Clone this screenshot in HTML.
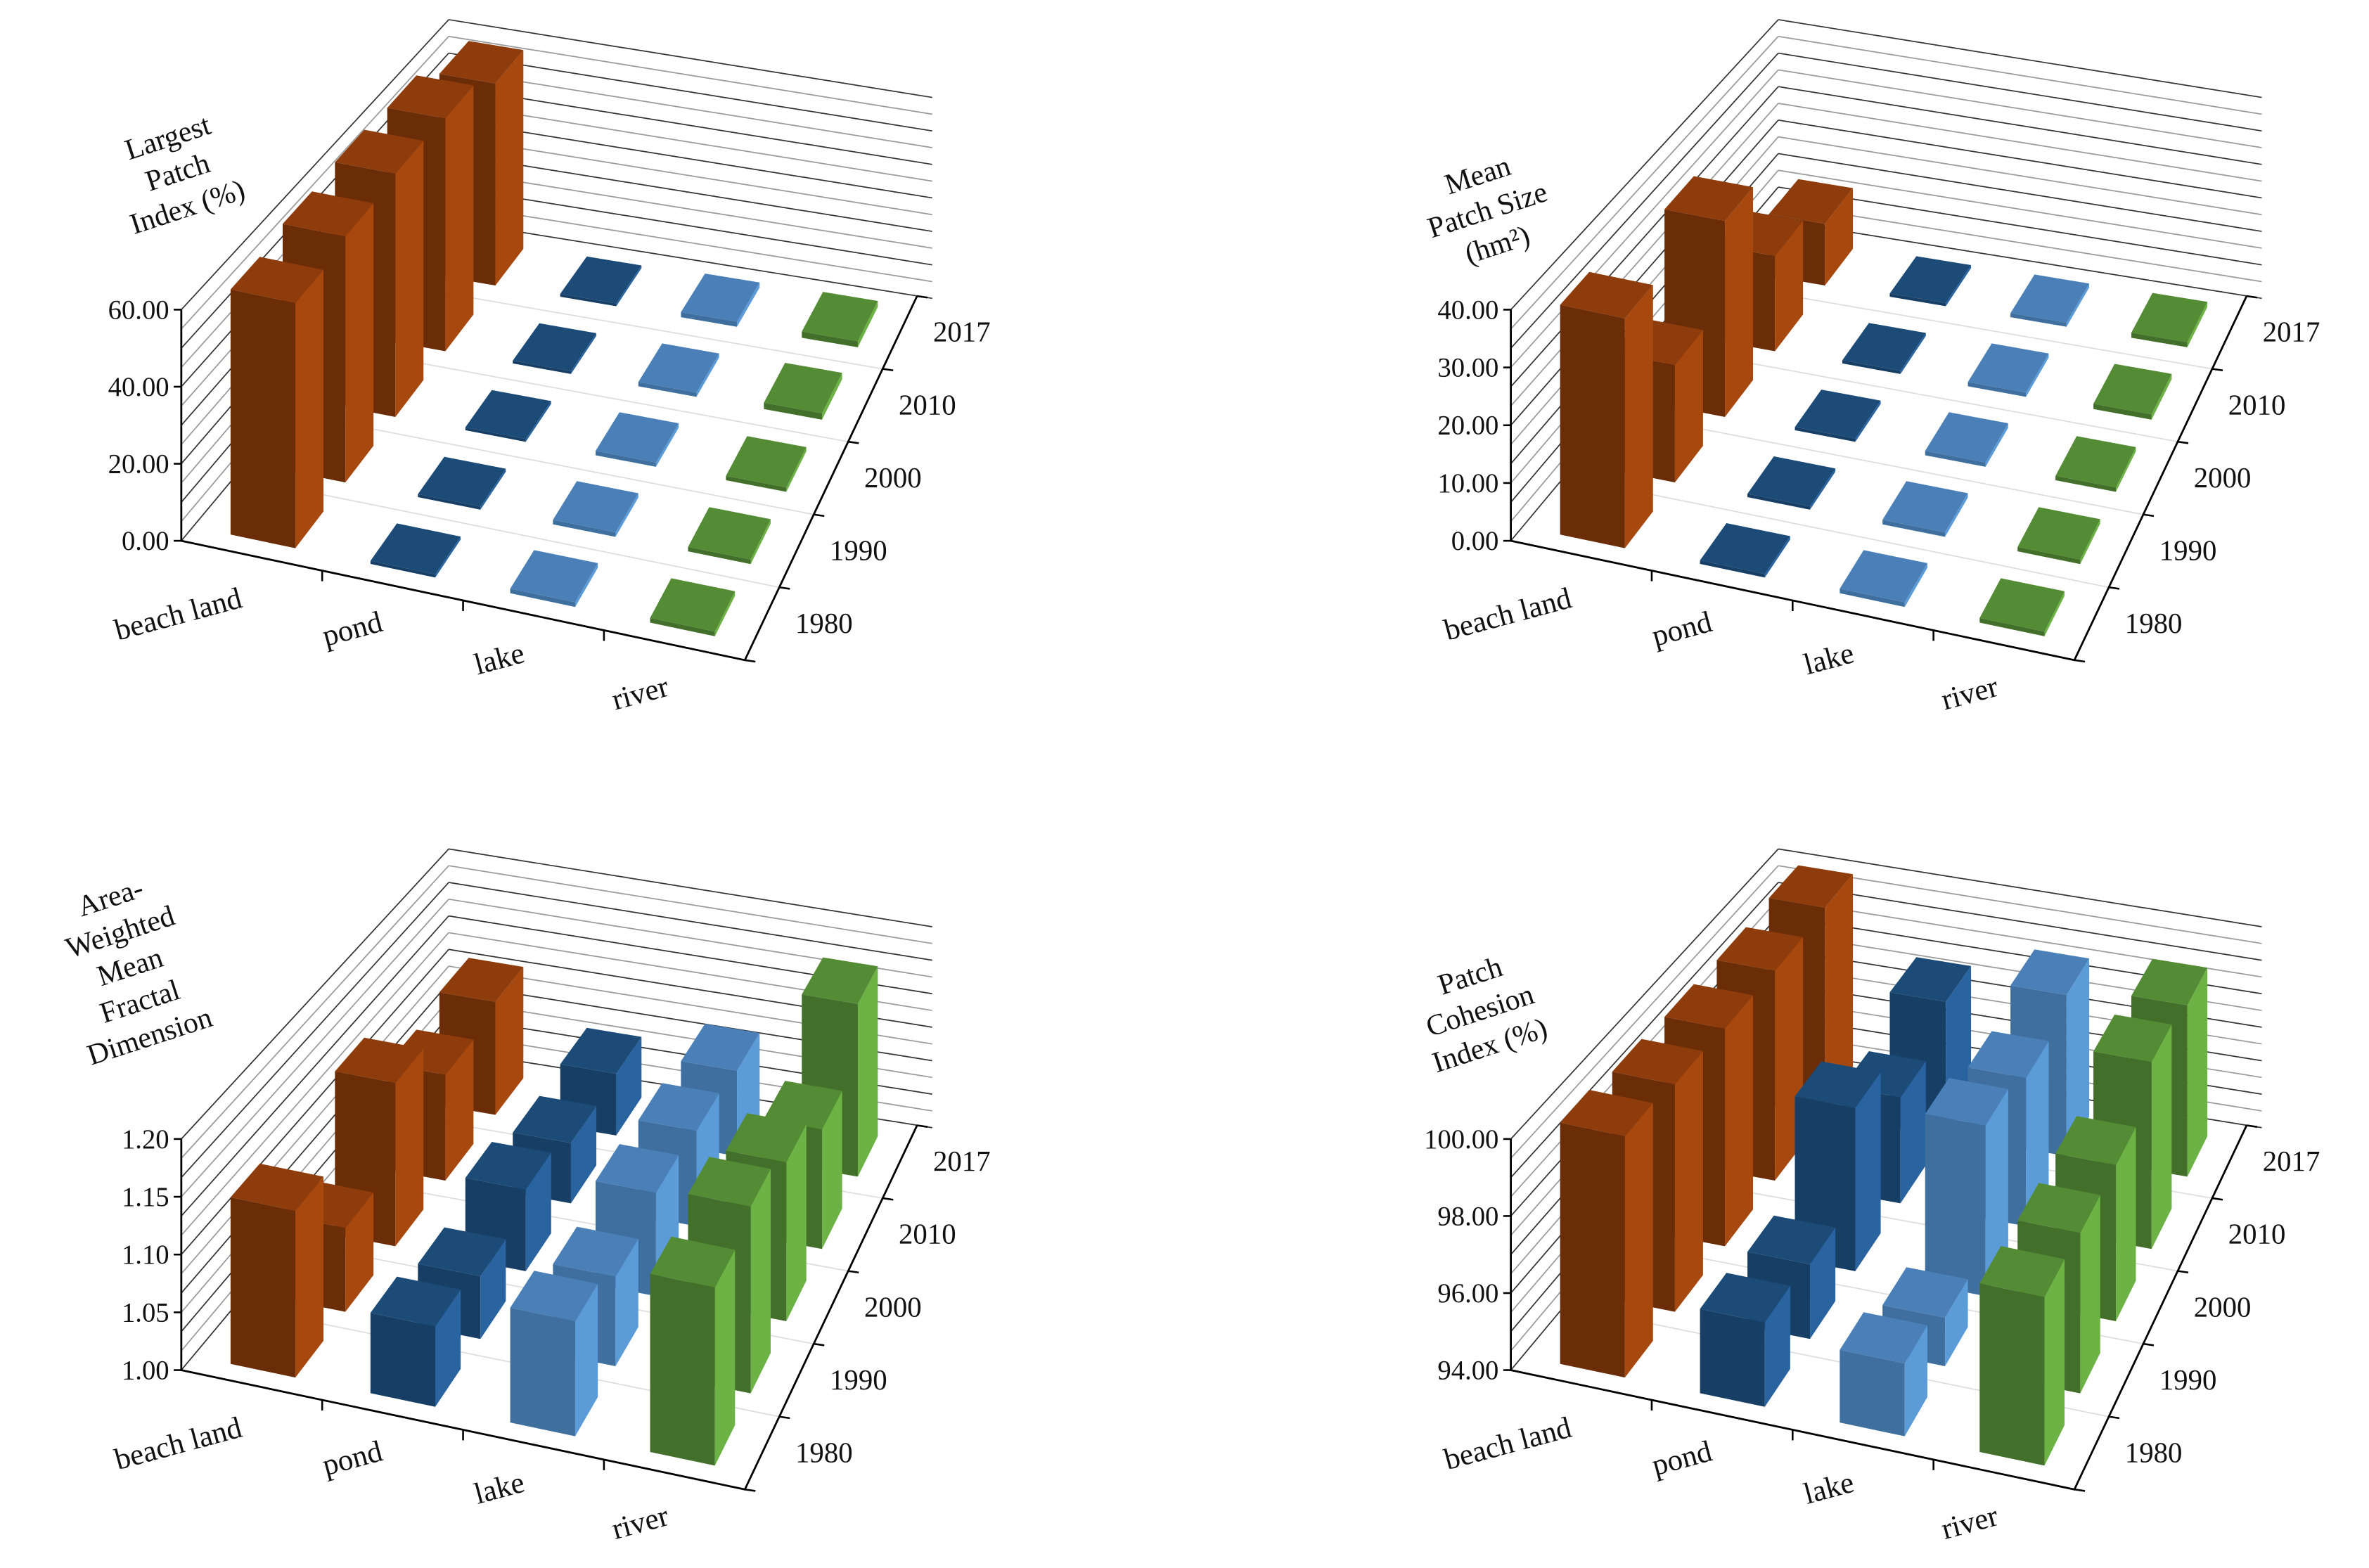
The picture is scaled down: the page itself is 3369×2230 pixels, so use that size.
<!DOCTYPE html>
<html><head><meta charset="utf-8"><style>
html,body{margin:0;padding:0;background:#fff;}
svg{display:block;}
text{font-family:"Liberation Serif",serif;fill:#111;}
</style></head><body>
<svg id="chart" width="3369" height="2230" viewBox="0 0 1568 1038" preserveAspectRatio="none" xmlns="http://www.w3.org/2000/svg"></svg>
<script>
const categories = ["beach land","pond","lake","river"];
const years = ["1980","1990","2000","2010","2017"];
// Largest Patch Index
const lpiBeach = [64,66,67,66,59];
const lpiPond = [0.8,0.8,0.8,0.8,0.8];
const lpiLake = [1.2,1.2,1.2,1.2,1.5];
const lpiRiver = [1.2,1.2,1.2,1.8,1.8];
const lpiTicks = ["0.00","20.00","40.00","60.00"];
// Mean Patch Size
const mpsBeach = [40,21,36,18,12];
const mpsPond = [0.6,0.6,0.6,0.6,0.6];
const mpsLake = [0.8,0.8,0.8,0.8,0.8];
const mpsRiver = [0.8,0.8,0.8,1.0,1.0];
const mpsTicks = ["0.00","10.00","20.00","30.00","40.00"];
// Area-Weighted Mean Fractal Dimension
const awBeach = [1.145,1.075,1.15,1.10,1.11];
const awPond = [1.07,1.056,1.075,1.057,1.06];
const awLake = [1.10,1.08,1.095,1.09,1.083];
const awRiver = [1.155,1.167,1.146,1.113,1.168];
const awTicks = ["1.00","1.05","1.10","1.15","1.20"];
// Patch Cohesion Index
const pcBeach = [100.3,100.1,100.0,99.95,100.05];
const pcPond = [96.2,96.0,98.5,97.0,97.9];
const pcLake = [95.9,95.3,98.7,98.2,98.7];
const pcRiver = [98.4,98.3,98.3,99.3,99.0];
const pcTicks = ["94.00","96.00","98.00","100.00"];

const NS="http://www.w3.org/2000/svg";
const svg=document.getElementById('chart');
const colors=[
 {front:'#6b2c08',side:'#a7490f',top:'#8e3c0c'},
 {front:'#173f66',side:'#2a64a0',top:'#1c4b78'},
 {front:'#3e6f9e',side:'#5a9bd8',top:'#4a80b7'},
 {front:'#426f29',side:'#6cb245',top:'#548b35'}
];
const catLabelDx=[-47,-25,-21,-21];
const catLabelDy=[45,35,35,38];
function mk(tag,attrs,parent){const e=document.createElementNS(NS,tag);for(const k in attrs)e.setAttribute(k,attrs[k]);(parent||svg).appendChild(e);return e;}

const panels=[
 {key:'lpi',dx:0,dy:0,min:0,max:60,step:5,ticks:lpiTicks,series:[lpiBeach,lpiPond,lpiLake,lpiRiver],title:["Largest","Patch","Index (%)"],tpos:[113,97]},
 {key:'mps',dx:880,dy:0,min:0,max:40,step:10/3,ticks:mpsTicks,series:[mpsBeach,mpsPond,mpsLake,mpsRiver],title:["Mean","Patch Size","(hm²)"],tpos:[980,122]},
 {key:'awmfd',dx:0,dy:549,min:1.0,max:1.2,step:0.2/12,ticks:awTicks,series:[awBeach,awPond,awLake,awRiver],title:["Area-","Weighted","Mean","Fractal","Dimension"],tpos:[75,600]},
 {key:'cohesion',dx:880,dy:549,min:94,max:100,step:0.5,ticks:pcTicks,series:[pcBeach,pcPond,pcLake,pcRiver],title:["Patch","Cohesion","Index (%)"],tpos:[975,652]}
];

panels.forEach(p=>{
 const g=mk('g',{});
 
 
 const FL=[120+p.dx,358+p.dy],FR=[493+p.dx,437+p.dy],BL=[297+p.dx,146+p.dy],BR=[607+p.dx,196+p.dy];
 const HF=153,HB=133;
 function P(u,v,val){
  const x=(1-u)*(1-v)*FL[0]+u*(1-v)*FR[0]+(1-u)*v*BL[0]+u*v*BR[0];
  const y=(1-u)*(1-v)*FL[1]+u*(1-v)*FR[1]+(1-u)*v*BL[1]+u*v*BR[1];
  const t=(val-p.min)/(p.max-p.min);
  return [x,y-t*(HF+(HB-HF)*v)];
 }
 const pts=a=>a.map(q=>q[0].toFixed(1)+','+q[1].toFixed(1)).join(' ');
 const n=Math.round((p.max-p.min)/p.step);
 for(let k=0;k<=n;k++){
  const val=p.min+k*p.step;
  const a=P(0,0,val),b=P(0,1,val),c=P(1,1,val);
  const col=(k%2===0)?'#333':'#999';
  const l1=mk('line',{x1:a[0],y1:a[1],x2:b[0],y2:b[1],stroke:col,'stroke-width':0.8},g);
  
  
  const l2=mk('line',{x1:b[0],y1:b[1],x2:c[0]+10,y2:c[1]+1.5,stroke:col,'stroke-width':0.8},g);
  
  
 }
 for(let j=1;j<5;j++){
  const a=P(0,j/5,p.min),b=P(1,j/5,p.min);
  const l=mk('line',{x1:a[0],y1:a[1],x2:b[0],y2:b[1],stroke:'#ddd','stroke-width':0.8},g);
  
  
 }
 const zt=P(0,0,p.max);
 const axes=mk('path',{d:`M${zt[0]},${zt[1]} L${FL[0]},${FL[1]} L${FR[0]},${FR[1]} L${BR[0]},${BR[1]}`,fill:'none',stroke:'#000','stroke-width':1.3},g);
 
 
 const tstep=(p.max-p.min)/(p.ticks.length-1);
 p.ticks.forEach((lab,k)=>{
  const q=P(0,0,p.min+k*tstep);
  const tl=mk('line',{x1:q[0]-5,y1:q[1],x2:q[0],y2:q[1],stroke:'#000','stroke-width':1.2},g);
  
  
  const t=mk('text',{x:q[0]-8,y:q[1]+6,'text-anchor':'end','font-size':18},g);
  t.textContent=lab;
  
  
 });
 for(let i=1;i<4;i++){
  const q=P(i/4,0,p.min);
  const tl=mk('line',{x1:q[0],y1:q[1],x2:q[0],y2:q[1]+7,stroke:'#000','stroke-width':1.2},g);
  
  
 }
 categories.forEach((c,i)=>{
  const q=P((i+0.5)/4,0,p.min);
  const cx=q[0]+catLabelDx[i], cy=q[1]+catLabelDy[i];
  const t=mk('text',{x:cx,y:cy,'text-anchor':'middle','font-size':20,transform:`rotate(-15 ${cx} ${cy})`},g);
  t.textContent=c;
  
  
 });
 for(let j=0;j<=5;j++){
  const q=P(1,j/5,p.min);
  const tl=mk('line',{x1:q[0],y1:q[1],x2:q[0]+7,y2:q[1]+1,stroke:'#000','stroke-width':1.2},g);
  
  
 }
 years.forEach((yv,j)=>{
  const q=P(1,(j+0.5)/5,p.min);
  const t=mk('text',{x:q[0]+41,y:q[1]+6,'text-anchor':'middle','font-size':19},g);
  t.textContent=yv;
  
  
 });
 p.title.forEach((line,k)=>{
  const x=p.tpos[0]+k*6.5,y=p.tpos[1]+k*23;
  const t=mk('text',{x:x,y:y,'text-anchor':'middle','font-size':19.5,transform:`rotate(-18 ${x} ${y})`},g);
  t.textContent=line;
  
  
 });
 const hu=0.058,hv=0.056;
 for(let j=4;j>=0;j--){
  for(let i=0;i<4;i++){
   const val=p.series[i][j];
   const uc=(i+0.5)/4,vc=(j+0.5)/5;
   const u0=uc-hu,u1=uc+hu,v0=vc-hv,v1=vc+hv;
   const bg=mk('g',{},g);
   
   
   const c=colors[i];
   mk('polygon',{points:pts([P(u0,v0,p.min),P(u1,v0,p.min),P(u1,v0,val),P(u0,v0,val)]),fill:c.front},bg);
   mk('polygon',{points:pts([P(u1,v0,p.min),P(u1,v1,p.min),P(u1,v1,val),P(u1,v0,val)]),fill:c.side},bg);
   mk('polygon',{points:pts([P(u0,v0,val),P(u1,v0,val),P(u1,v1,val),P(u0,v1,val)]),fill:c.top},bg);
  }
 }
});
</script>
</body></html>
